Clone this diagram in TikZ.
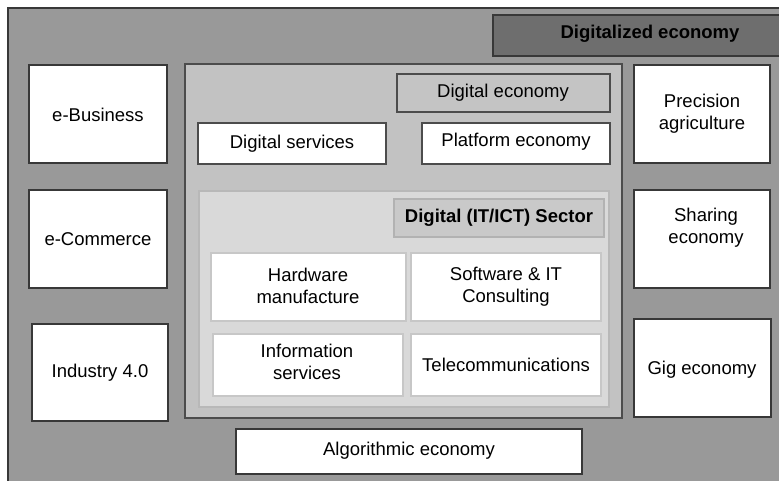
\documentclass[tikz,border=0pt]{standalone}
\usepackage{fontspec}
\setmainfont{Liberation Sans}
\begin{document}
\begin{tikzpicture}[x=1pt,y=-1pt,
  lbl/.style={font=\fontsize{18.5}{22}\selectfont,align=center,text=black},
  darkbox/.style={draw=black!78,line width=2.2pt,fill=white},
  cellbox/.style={draw=black!22,line width=2.5pt,fill=white},
  box/.style={rectangle,minimum width=0pt,inner sep=0pt}]
\useasboundingbox (0,0) rectangle (779,481);
\fill[white] (0,0) rectangle (779,481);
% outer
\draw[draw=black!78,line width=2.2pt,fill=black!40] (8,8) rectangle (790,490);
% digitalized economy
\draw[draw=black!78,line width=2.2pt,fill=black!57] (493,15) rectangle (790,56);
\node[lbl,font=\fontsize{18.5}{22}\selectfont\bfseries] (dze) at (650,34) {Digitalized economy};
% digital economy container
\draw[draw=black!70,line width=2.2pt,fill=black!24] (185,64) rectangle (622,418);
\draw[draw=black!70,line width=2.5pt,fill=black!23] (397,74) rectangle (610,112);
\node[lbl] (de) at (503,93) {Digital economy};
\draw[darkbox,draw=black!70] (198,123) rectangle (386,164);
\node[lbl] (ds) at (292,143.5) {Digital services};
\draw[darkbox,draw=black!70] (422,123) rectangle (610,164);
\node[lbl] (pe) at (516,142) {Platform economy};
% sector
\draw[draw=black!28,line width=2.5pt,fill=black!15] (199,191) rectangle (609,407);
\draw[draw=black!30,line width=2.5pt,fill=black!21] (394,199) rectangle (604,237);
\node[lbl,font=\fontsize{18.5}{22}\selectfont\bfseries] (ict) at (499,218) {Digital (IT/ICT) Sector};
\draw[cellbox] (211,253) rectangle (406,321);
\node[lbl] (hw) at (308,286) {Hardware\\manufacture};
\draw[cellbox] (411,253) rectangle (601,321);
\node[lbl] (sw) at (506,287) {Software \& IT\\Consulting};
\draw[cellbox] (213,334) rectangle (403,396);
\node[lbl] (is) at (307,362) {Information\\services};
\draw[cellbox] (411,334) rectangle (601,396);
\node[lbl] (tc) at (506,365) {Telecommunications};
% left
\draw[darkbox] (29,65) rectangle (167,163);
\node[lbl] (eb) at (98,115) {e-Business};
\draw[darkbox] (29,190) rectangle (167,288);
\node[lbl] (ec) at (98,239) {e-Commerce};
\draw[darkbox] (32,324) rectangle (168,421);
\node[lbl] (i4) at (100,373) {Industry 4.0};
% right
\draw[darkbox] (634,65) rectangle (770,163);
\node[lbl] (pa) at (702,114) {Precision\\agriculture};
\draw[darkbox] (634,190) rectangle (770,288);
\node[lbl] (se) at (706,228) {Sharing\\economy};
\draw[darkbox] (634,319) rectangle (771,417);
\node[lbl] (ge) at (702,370) {Gig economy};
% bottom
\draw[darkbox] (236,429) rectangle (582,474);
\node[lbl] (ae) at (409,451) {Algorithmic economy};
\end{tikzpicture}
\end{document}
